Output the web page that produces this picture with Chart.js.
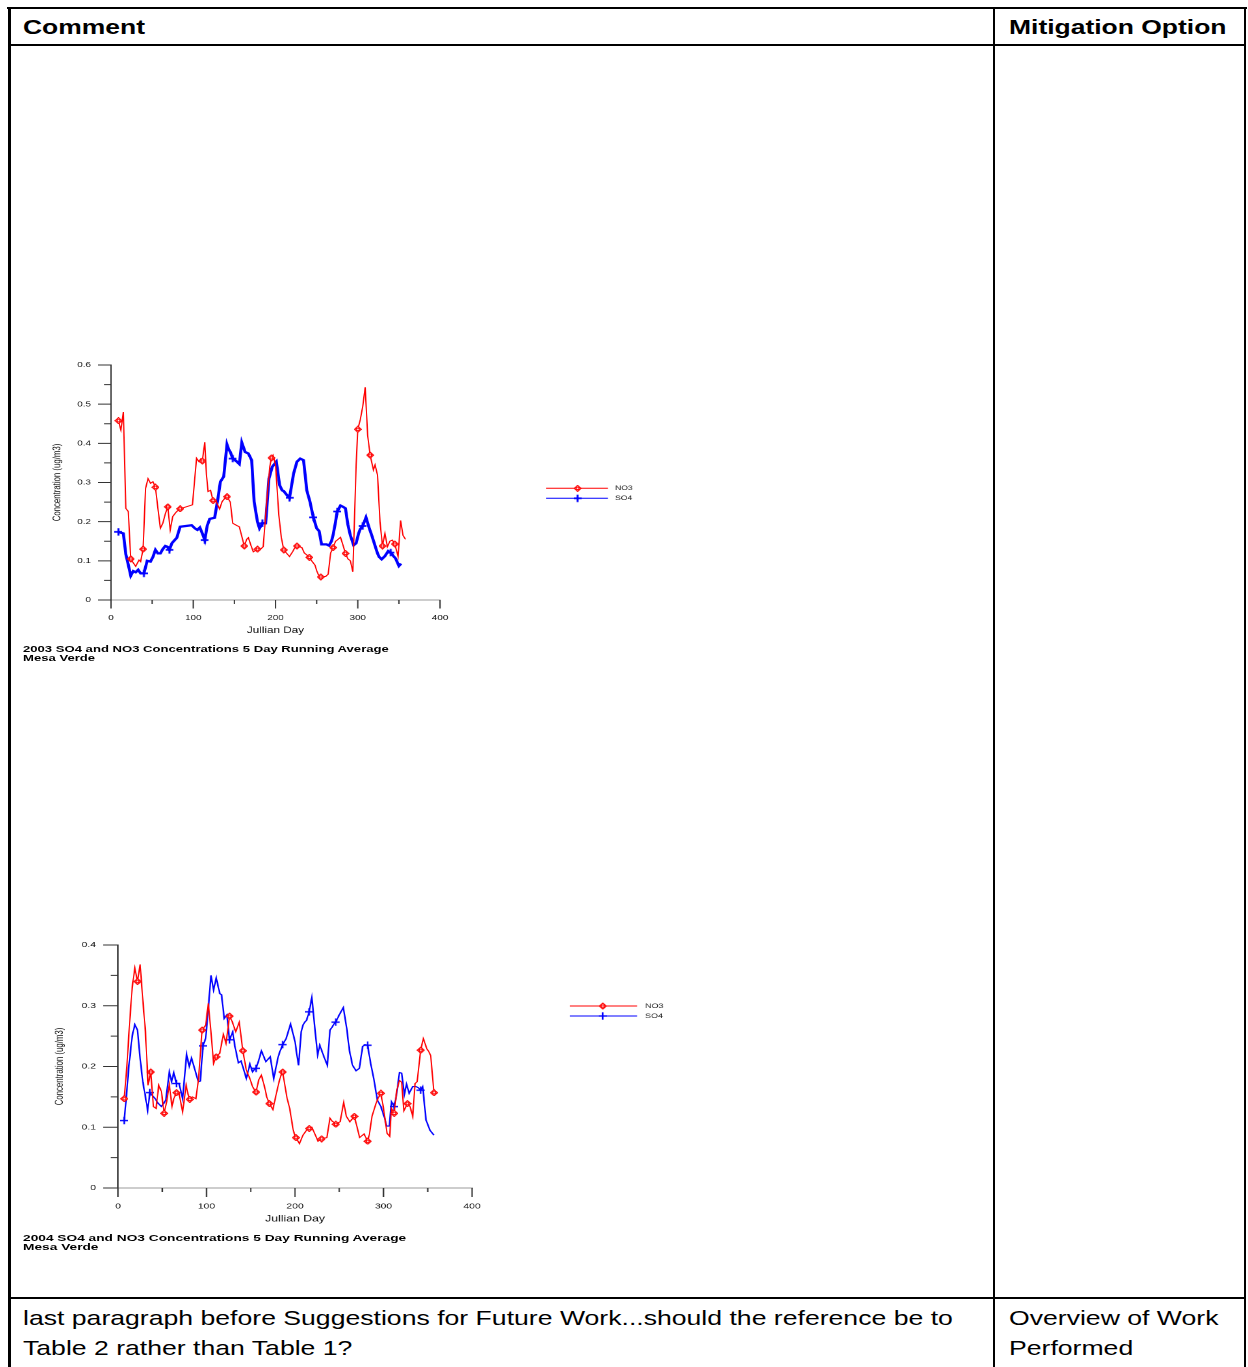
<!DOCTYPE html>
<html><head><meta charset="utf-8">
<script src="https://cdn.jsdelivr.net/npm/chart.js@4.4.1/dist/chart.umd.min.js"></script>
<style>
html,body{margin:0;padding:0;background:#fff;}
body{width:1248px;height:1367px;position:relative;overflow:hidden;font-family:"Liberation Sans",Arial,sans-serif;color:#000;}
.ln{position:absolute;background:#000;}
.txt{position:absolute;white-space:nowrap;transform-origin:0 0;}
.hdr{font-weight:bold;font-size:21px;line-height:30px;transform:scaleX(1.26);}
.bd{font-size:21px;line-height:30px;transform:scaleX(1.267);}
.cap{font-weight:bold;font-size:9.6px;line-height:9.6px;}
.wrap{position:absolute;transform-origin:0 0;}
</style></head>
<body>
<div class="ln" style="left:7px;top:7px;width:1240px;height:2px"></div>
<div class="ln" style="left:8px;top:7px;width:3px;height:1360px"></div>
<div class="ln" style="left:1244px;top:7px;width:2px;height:1360px"></div>
<div class="ln" style="left:8px;top:44px;width:1238px;height:2px"></div>
<div class="ln" style="left:993px;top:7px;width:2px;height:1360px"></div>
<div class="ln" style="left:8px;top:1297px;width:1238px;height:2px"></div>

<div class="txt hdr" style="left:23px;top:12px">Comment</div>
<div class="txt hdr" style="left:1009px;top:12px">Mitigation Option</div>
<div class="txt bd" style="left:23px;top:1303px">last paragraph before Suggestions for Future Work...should the reference be to<br>Table 2 rather than Table 1?</div>
<div class="txt bd" style="left:1009px;top:1303px">Overview of Work<br>Performed</div>

<div class="wrap" style="left:20px;top:355px;transform:scaleX(1.3)"><canvas id="c1" width="492" height="290"></canvas></div>
<div class="txt cap" style="left:23px;top:643.5px;transform:scaleX(1.365)">2003 SO4 and NO3 Concentrations 5 Day Running Average<br>Mesa Verde</div>

<div class="wrap" style="left:20px;top:935px;transform:scaleX(1.36)"><canvas id="c2" width="500" height="300"></canvas></div>
<div class="txt cap" style="left:23px;top:1232.5px;transform:scaleX(1.43)">2004 SO4 and NO3 Concentrations 5 Day Running Average<br>Mesa Verde</div>

<script>
// ---------- DATA ----------
const xTicks = [0, 100, 200, 300, 400];
const seriesNames = ['NO3', 'SO4'];

// 2003, Mesa Verde (Julian day, 5-day running average, ug/m3)
const no3_2003_days = [9,12,15,18,21, 24,27,30,34,36, 39,42,45,48,51, 54,57,60,63,66, 69,72,75,79,81, 84,99,104,107,109,
  111,114,116,118,121, 124,128,132,135,138, 141,145,148,153,156, 162,165,167,170,173, 178,181,185,190,193,
  195,197,200,204,207, 210,214,217,221,223, 226,229,232,235,238, 241,244,248,250,252, 255,258,261,264,267,
  270,273,275,279,282, 285,288,291,294,298, 300,303,306,309,312, 315,319,321,324,327, 330,333,336,339,342,
  345,349,352,355,358];
const no3_2003_vals = [.458,.434,.48,.234,.226, .105,.095,.086,.102,.098, .130,.285,.31,.298,.302, .288,.234,.183,.196,.22,
  .238,.179,.213,.224,.228, .233,.243,.362,.353,.36, .355,.403,.32,.277,.28, .254,.251,.232,.251,.259,
  .264,.25,.196,.19,.187, .138,.155,.159,.14,.123, .130,.128,.136,.27,.34, .363,.37,.345,.217,.16,
  .128,.118,.111,.124,.132, .138,.136,.134,.12,.115, .109,.10,.089,.075,.065, .059,.06,.06,.066,.12,
  .134,.15,.153,.16,.14, .119,.105,.10,.072,.345, .436,.46,.494,.543,.42, .37,.332,.345,.319,.2,
  .138,.17,.136,.15,.153, .143,.111,.203,.165,.155];
const so4_2003_days = [9,12,15,18,21, 24,27,30,33,36, 40,44,48,51,54, 57,60,63,66,68.5, 71,74,77,80,84,
  98,102,105,108,111, 114,117,120,126,130, 133,137,141,143,145, 148,152,156,159,163, 167,171,174,178,180.5,
  184,188,192,196,201, 205,208,210,213,215, 217,222,226,230,234, 236,238,240,242,244, 246,250,253,256,259,
  262,265,268,270,273, 275,279,282,285,288, 291,295,298,301,303, 306,310,314,317,320, 324,326,329,333,337,
  340,343,346,350,352.6];
const so4_2003_vals = [.174,.172,.17,.117,.09, .062,.074,.071,.077,.068, .068,.100,.098,.11,.128, .119,.119,.13,.138,.136,
  .128,.145,.152,.159,.187, .191,.183,.179,.185,.17, .153,.19,.207,.21,.26, .302,.315,.397,.385,.378,
  .361,.355,.347,.402,.378, .374,.357,.251,.2,.183, .196,.196,.31,.34,.353, .293,.28,.278,.27,.265,
  .261,.323,.353,.361,.357, .32,.28,.265,.25,.23, .211,.183,.176,.142,.142, .142,.139,.15,.166,.2,
  .226,.241,.238,.234,.192, .165,.14,.145,.17,.181, .189,.211,.183,.165,.145, .119,.11,.104,.112,.125,
  .121,.113,.106,.087,.093];

// 2004, Mesa Verde
const no3_2004_days = [7,10,13,16,19, 22,25,28,31,34, 37,40,43,46,49, 52,55,58,61,63, 66,69,73,77,79, 81,84,88,91,93,
  95,99,102,105,108, 111,115,119,122,124, 126,129,133,137,139, 141,145,149,152,154, 156,159,162,166,168,
  171,175,179,182,184, 186,191,194,198,199.5, 201,205,209,212,214, 216,219,223,226,228, 230,236,239.5,242,244,
  246,251,255,258,262, 267,270,273,278,280, 282,284,287,291.5,294, 297,300,304,307,309, 312,315,318,320.5,323,
  327,330,333,335.6,338, 342,345,349,351,353.3, 357];
const no3_2004_vals = [.147,.2,.27,.33,.362, .34,.368,.31,.257,.169, .191,.134,.131,.169,.159, .123,.142,.17,.134,.147,
  .157,.155,.125,.169,.155, .146,.15,.147,.18,.22, .26,.268,.304,.257,.205, .216,.222,.253,.238,.26,
  .283,.274,.257,.273,.25, .226,.194,.18,.167,.162, .158,.178,.186,.164,.15, .139,.129,.156,.175,.185,
  .191,.148,.131,.095,.088, .083,.073,.087,.093,.097, .098,.1,.087,.077,.079, .081,.083,.115,.11,.108,
  .105,.109,.141,.118,.109, .118,.101,.083,.089,.083, .077,.088,.118,.139,.148, .156,.131,.09,.085,.131,
  .123,.161,.177,.174,.127, .139,.134,.118,.172,.175, .227,.246,.229,.225,.218, .157];
const so4_2004_days = [7,10,12,16,19, 22,25,28,31,33.5, 36,39,42,45,49, 52,54,58,60.6,63, 66,69,73,77.5,80.5,
  83,87,90.7,91,93, 96,99,102,105,108, 111,115,117,120,123, 126,129.6,132,136,139, 142,145,149,152,154,
  156,159,162,167,172, 176,178,181,183,184.5, 186,190,195,200,202, 204,207,209,211,213, 216,219,222.6,225.6,228,
  232.7,236.5,239.5,242,244, 246,250,254.6,258.4,261.4, 265,269,272.7,276.4,279, 282,285.5,289,293,297,
  300.6,303.6,306.6,309,310.5, 312,315,318,320.5,323.6, 326,329,333,336.7,339.4, 342,344.3,348,352.5,357];
const so4_2004_vals = [.111,.16,.197,.25,.269, .26,.213,.175,.15,.128, .157,.152,.147,.14,.134, .14,.145,.191,.175,.19,
  .172,.172,.147,.22,.2, .214,.194,.175,.175,.176, .234,.246,.295,.35,.326, .346,.32,.318,.279,.285,
  .244,.257,.234,.206,.209, .195,.18,.204,.191,.195, .197,.21,.226,.208,.216, .18,.195,.216,.225,.23,
  .236,.246,.27,.241,.22, .202,.257,.268,.273,.276, .29,.314,.26,.219,.235, .216,.202,.26,.265,.27,
  .273,.285,.297,.263,.227, .202,.193,.197,.233,.236, .235,.205,.18,.145,.134, .118,.102,.102,.142,.138,
  .134,.156,.19,.189,.154, .171,.156,.167,.167,.165, .161,.167,.112,.095,.087];

// ---------- MARKERS (drawn hi-res, shown small) ----------
const K = 4;
function toImg(c, w, h) {
  return new Promise(res => {
    const im = new Image();
    im.onload = () => { im.width = w; im.height = h; res(im); };
    im.src = c.toDataURL();
  });
}
function diamondImg(color) {
  const w = 6.6, h = 7.4;
  const c = document.createElement('canvas'); c.width = w * K; c.height = h * K;
  const g = c.getContext('2d'); g.scale(K, K);
  g.beginPath(); g.moveTo(w / 2, 0.6); g.lineTo(w - 0.6, h / 2); g.lineTo(w / 2, h - 0.6); g.lineTo(0.6, h / 2); g.closePath();
  g.fillStyle = '#fff'; g.fill(); g.strokeStyle = color; g.lineWidth = 1.05; g.stroke();
  g.beginPath(); g.arc(w / 2, h / 2, 1.15, 0, Math.PI * 2); g.lineWidth = 0.9; g.stroke();
  return toImg(c, w, h);
}
function plusImg(color, lwv, lwh) {
  const w = 6, h = 8;
  const c = document.createElement('canvas'); c.width = w * K; c.height = h * K;
  const g = c.getContext('2d'); g.scale(K, K);
  g.strokeStyle = color;
  g.lineWidth = lwv; g.beginPath(); g.moveTo(w / 2, 0.3); g.lineTo(w / 2, h - 0.3); g.stroke();
  g.lineWidth = lwh; g.beginPath(); g.moveTo(0, h / 2); g.lineTo(w, h / 2); g.stroke();
  return toImg(c, w, h);
}

// ---------- DECOR PLUGIN (minor/major tick marks + legend) ----------
const axisDecor = {
  id: 'axisDecor',
  afterDraw(chart, args, o) {
    const { ctx, chartArea: a, scales: { x, y } } = chart;
    ctx.save();
    ctx.strokeStyle = o.tickColor; ctx.lineWidth = 1;
    ctx.beginPath();
    const isMajor = (v, m) => Math.abs(v / m - Math.round(v / m)) < 1e-6;
    for (let v = y.min; v <= y.max + 1e-9; v += o.yMinor) {
      const py = y.getPixelForValue(v);
      const len = isMajor(v, o.yMajor) ? o.yMajorLen : o.yMinorLen;
      ctx.moveTo(a.left - len, py); ctx.lineTo(a.left, py);
    }
    for (let v = x.min; v <= x.max + 1e-9; v += o.xMinor) {
      const px = x.getPixelForValue(v);
      const len = isMajor(v, o.xMajor) ? o.xMajorLen : o.xMinorLen;
      ctx.moveTo(px, a.bottom); ctx.lineTo(px, a.bottom + len);
    }
    ctx.stroke();
    const L = o.legend;
    chart.data.datasets.forEach((ds, i) => {
      const yy = L.ys[i];
      ctx.strokeStyle = ds.borderColor; ctx.lineWidth = 1;
      ctx.beginPath(); ctx.moveTo(L.x0, yy); ctx.lineTo(L.x1, yy); ctx.stroke();
      const img = ds.pointStyle;
      ctx.drawImage(img, L.mx - img.width / 2, yy - img.height / 2, img.width, img.height);
      ctx.fillStyle = '#222';
      ctx.font = L.fontSize + 'px "Liberation Sans", Arial, sans-serif';
      ctx.textBaseline = 'middle'; ctx.textAlign = 'left';
      ctx.fillText(ds.label, L.tx, yy);
    });
    ctx.restore();
  }
};

const FONT = '"Liberation Sans", Arial, sans-serif';

function makeChart(id, cfg) {
  const datasets = cfg.series.map(s => ({
    label: s.label,
    data: s.days.map((d, i) => ({ x: d, y: s.vals[i] })),
    borderColor: s.color,
    borderWidth: s.width,
    pointStyle: s.marker,
    pointRadius: c => (c.index % s.every === 0 ? 3 : 0),
    pointHoverRadius: 0,
    tension: 0,
    fill: false
  }));
  return new Chart(document.getElementById(id), {
    type: 'line',
    data: { datasets },
    options: {
      responsive: false, animation: false, devicePixelRatio: 2,
      layout: { padding: { top: 10, right: cfg.padRight, bottom: 0, left: 0 } },
      plugins: { legend: { display: false }, tooltip: { enabled: false }, axisDecor: cfg.decor },
      scales: {
        x: {
          type: 'linear', min: xTicks[0], max: xTicks[xTicks.length - 1],
          afterBuildTicks: s => { s.ticks = xTicks.map(v => ({ value: v })); },
          ticks: { font: { family: FONT, size: 7.6 }, color: '#111', padding: cfg.xPad, maxRotation: 0 },
          grid: { display: true, drawOnChartArea: false, drawTicks: true, tickLength: cfg.xTL, color: 'rgba(0,0,0,0)' },
          border: { display: true, color: '#9a9a9a', width: 1 },
          title: { display: true, text: 'Jullian Day', font: { family: FONT, size: 9 }, color: '#111', padding: { top: 0, bottom: cfg.xTitlePad } },
          afterFit: s => { s.height = cfg.xH; }
        },
        y: {
          min: 0, max: cfg.yMax,
          afterBuildTicks: s => { s.ticks = cfg.yTicks.map(v => ({ value: v })); },
          ticks: { font: { family: FONT, size: 7.6 }, color: '#111', padding: cfg.yPad },
          grid: { display: true, drawOnChartArea: false, drawTicks: true, tickLength: cfg.yTL, color: 'rgba(0,0,0,0)' },
          border: { display: true, color: '#333', width: 1 },
          title: { display: true, text: 'Concentration (ug/m3)', font: { family: FONT, size: 7.8 }, color: '#111', padding: { top: cfg.yTitlePad, bottom: 0 } },
          afterFit: s => { s.width = cfg.yW; }
        }
      }
    },
    plugins: [axisDecor]
  });
}

const red = '#ff0000', blue = '#0000ff';

Promise.all([diamondImg(red), plusImg(blue, 1.5, 1.7), diamondImg(red), plusImg(blue, 1.2, 1.4)]).then(([d1, p1, d2, p2]) => {
  makeChart('c1', {
    yMax: 0.6, yTicks: [0, 0.1, 0.2, 0.3, 0.4, 0.5, 0.6],
    yW: 70, xH: 45, padRight: 168.9,
    yTL: 10, yPad: 5.4, xTL: 8.5, xPad: 5, xTitlePad: 9.2, yTitlePad: 24,
    series: [
      { label: seriesNames[0], days: no3_2003_days, vals: no3_2003_vals, color: red, width: 1, marker: d1, every: 5 },
      { label: seriesNames[1], days: so4_2003_days, vals: so4_2003_vals, color: blue, width: 2.3, marker: p1, every: 10 }
    ],
    decor: { tickColor: '#333', yMajor: 0.1, yMinor: 0.05, yMajorLen: 10, yMinorLen: 5.4, xMajor: 100, xMinor: 50, xMajorLen: 8.5, xMinorLen: 4,
      legend: { x0: 404.6, x1: 452.3, mx: 428.9, tx: 457.7, ys: [133.3, 143.3], fontSize: 6.6 } }
  });

  makeChart('c2', {
    yMax: 0.4, yTicks: [0, 0.1, 0.2, 0.3, 0.4],
    yW: 72.06, xH: 47, padRight: 167.65,
    yTL: 11, yPad: 5.2, xTL: 9, xPad: 5, xTitlePad: 10.7, yTitlePad: 24.7,
    series: [
      { label: seriesNames[0], days: no3_2004_days, vals: no3_2004_vals, color: red, width: 1, marker: d2, every: 5 },
      { label: seriesNames[1], days: so4_2004_days, vals: so4_2004_vals, color: blue, width: 1.15, marker: p2, every: 10 }
    ],
    decor: { tickColor: '#333', yMajor: 0.1, yMinor: 0.05, yMajorLen: 11, yMinorLen: 5.3, xMajor: 100, xMinor: 50, xMajorLen: 9, xMinorLen: 4,
      legend: { x0: 404.4, x1: 453.7, mx: 428.5, tx: 459.6, ys: [71, 81], fontSize: 6.6 } }
  });
});
</script>
</body></html>
